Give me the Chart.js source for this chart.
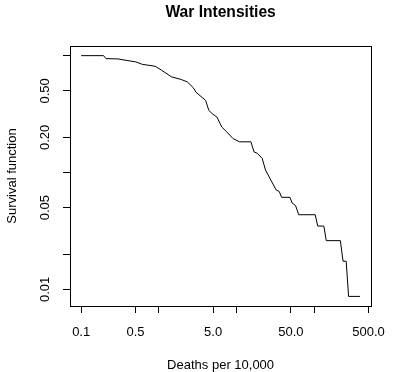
<!DOCTYPE html>
<html>

<head>
    <title>War Intensities</title>
    <script src="https://cdn.jsdelivr.net/npm/chart.js"></script>
    <style>
        body { margin: 0; background: #fff; }
        canvas { display: block; }
    </style>
</head>

<body>
    <canvas id="war-chart" width="397" height="372"></canvas>

    <script>
        // Survival curve: deaths per 10,000 vs. fraction of wars at least that intense
        const deaths = [0.1, 0.194, 0.209, 0.298, 0.379, 0.505, 0.612, 0.897, 1.09, 1.45,
            1.94, 2.32, 2.78, 3.0, 4.0, 4.4, 4.85, 5.6, 6.15, 6.46,
            7.46, 9.02, 10.9, 15.3, 16.8, 18.5, 21.4, 23.6, 32.3, 35.5,
            38.0, 48.7, 52.1, 57.5, 63.2, 103, 111, 133, 143, 217,
            235, 258, 277, 389];
        const survival = [1.0, 1.0, 0.943, 0.937, 0.912, 0.884, 0.843, 0.811, 0.749, 0.659,
            0.625, 0.597, 0.531, 0.487, 0.414, 0.340, 0.319, 0.298, 0.262, 0.245,
            0.223, 0.195, 0.183, 0.183, 0.150, 0.146, 0.132, 0.105, 0.071, 0.0687,
            0.0613, 0.0613, 0.0547, 0.0522, 0.0435, 0.0435, 0.0348, 0.0348, 0.0261, 0.0261,
            0.0174, 0.0174, 0.0087, 0.0087];

        // axis ticks (blank label = tick mark only)
        const xTicks = [0.1, 0.5, 1, 5, 10, 50, 100, 500];
        const xTickLabels = ['0.1', '0.5', '', '5.0', '', '50.0', '', '500.0'];
        const yTicks = [1, 0.5, 0.2, 0.1, 0.05, 0.02, 0.01];
        const yTickLabels = ['', '0.50', '0.20', '', '0.05', '', '0.01'];

        const points = deaths.map((d, i) => ({ x: d, y: survival[i] }));
        const FONT = 'Liberation Sans, Arial, Helvetica, sans-serif';

        // plain box around the plotting region
        const boxPlugin = {
            id: 'box',
            afterDraw(chart) {
                const { ctx, chartArea: a } = chart;
                ctx.save();
                ctx.strokeStyle = '#000';
                ctx.lineWidth = 1;
                ctx.strokeRect(Math.round(a.left) + 0.5, Math.round(a.top) + 0.5,
                    Math.round(a.right - a.left), Math.round(a.bottom - a.top));
                ctx.restore();
            }
        };

        const ctx = document.getElementById('war-chart').getContext('2d');
        new Chart(ctx, {
            type: 'line',
            data: {
                datasets: [{
                    data: points,
                    borderColor: '#000',
                    borderWidth: 1,
                    pointRadius: 0,
                    tension: 0,
                    fill: false
                }]
            },
            options: {
                responsive: false,
                animation: false,
                layout: { padding: { top: 0, right: 16, bottom: 0, left: 0 } },
                plugins: {
                    legend: { display: false },
                    tooltip: { enabled: false },
                    title: {
                        display: true,
                        text: 'War Intensities',
                        fullSize: false,
                        color: '#000',
                        font: { family: FONT, size: 15.6, weight: 'bold', lineHeight: 1.2 },
                        padding: { top: 3, bottom: 24.3 }
                    }
                },
                scales: {
                    x: {
                        type: 'logarithmic',
                        min: 0.0718,
                        max: 541.6,
                        afterFit: s => { s.height = 66; },
                        afterBuildTicks: s => { s.ticks = xTicks.map(v => ({ value: v })); },
                        border: { display: false },
                        grid: { drawOnChartArea: false, color: '#000', tickLength: 7 },
                        ticks: {
                            autoSkip: false,
                            maxRotation: 0,
                            color: '#000',
                            padding: 12,
                            font: { family: FONT, size: 13 },
                            callback: (v, i) => xTickLabels[i]
                        },
                        title: {
                            display: true,
                            text: 'Deaths per 10,000',
                            color: '#000',
                            font: { family: FONT, size: 13, lineHeight: 1.08 },
                            padding: { top: 0, bottom: 0 }
                        }
                    },
                    y: {
                        type: 'logarithmic',
                        min: 0.0072,
                        max: 1.209,
                        afterFit: s => { s.width = 70; },
                        afterBuildTicks: s => { s.ticks = yTicks.map(v => ({ value: v })); },
                        border: { display: false },
                        grid: { drawOnChartArea: false, color: '#000', tickLength: 7 },
                        ticks: {
                            autoSkip: false,
                            minRotation: 90,
                            maxRotation: 90,
                            crossAlign: 'center',
                            color: '#000',
                            padding: 5,
                            font: { family: FONT, size: 13 },
                            callback: (v, i) => yTickLabels[i]
                        },
                        title: {
                            display: true,
                            text: 'Survival function',
                            color: '#000',
                            font: { family: FONT, size: 13, lineHeight: 1.2 },
                            padding: { top: 5, bottom: 0 }
                        }
                    }
                }
            },
            plugins: [boxPlugin]
        });
    </script>
</body>

</html>
